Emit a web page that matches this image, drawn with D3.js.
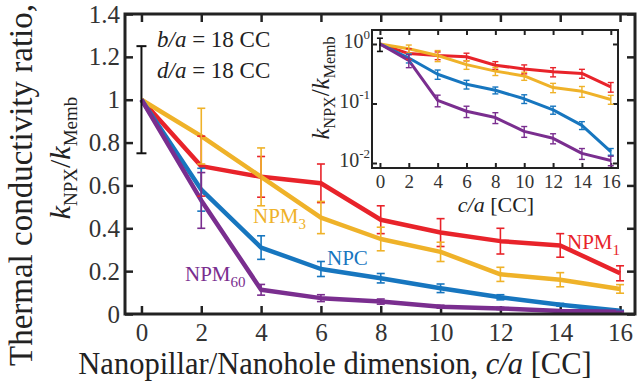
<!DOCTYPE html>
<html>
<head>
<meta charset="utf-8">
<script src="https://cdn.jsdelivr.net/npm/d3@7"></script>
<style>
    body { margin: 0; background: #fff; }
    svg, svg text { font-family: "Liberation Serif", "Times New Roman", Times, serif; }
    .axis path, .axis line { stroke: #222; }
    .axis text { fill: #333; }
</style>
</head>
<body>
<svg id="chart"></svg>
<script>
// data
const cSizes = [0, 2, 4, 6, 8, 10, 12, 14, 16];
const npm1 = [1, 0.69, 0.64, 0.61, 0.44, 0.38, 0.34, 0.32, 0.19];
const npm1Err = [0.25, 0.14, 0.095, 0.09, 0.065, 0.065, 0.06, 0.055, 0.035];
const npm3 = [1, 0.83, 0.64, 0.45, 0.35, 0.29, 0.185, 0.16, 0.117];
const npm3Err = [0.25, 0.13, 0.135, 0.075, 0.055, 0.045, 0.033, 0.033, 0.02];
const npc = [1, 0.58, 0.31, 0.21, 0.167, 0.12, 0.078, 0.043, 0.0155];
const npcErr = [0.25, 0.1, 0.055, 0.035, 0.022, 0.02, 0.012, 0.0065, 0.002];
const npm60 = [1, 0.53, 0.113, 0.074, 0.058, 0.034, 0.026, 0.0145, 0.011];
const npm60Err = [0.25, 0.13, 0.025, 0.016, 0.012, 0.007, 0.005, 0.003, 0.002];
const yTicks = [0, 0.2, 0.4, 0.6, 0.8, 1, 1.2, 1.4];
const logTicks = [1, 0.1, 0.01];

const seriesList = [
    { name: "NPM", sub: "1", vals: npm1, err: npm1Err, color: "#e8232a" },
    { name: "NPM", sub: "3", vals: npm3, err: npm3Err, color: "#efb229" },
    { name: "NPC", sub: "", vals: npc, err: npcErr, color: "#1776bf" },
    { name: "NPM", sub: "60", vals: npm60, err: npm60Err, color: "#7a2e8f" },
];

const width = 640, height = 383;
const svg = d3.select("#chart").attr("width", width).attr("height", height);

// main scales
const x = d3.scaleLinear().domain([-0.55, 16.5]).range([125, 635]);
const y = d3.scaleLinear().domain([0, 1.4]).range([314, 14]);

// inset scales
const xi = d3.scaleLinear().domain([-0.55, 16.5]).range([372, 618]);
const yi = d3.scaleLog().domain([Math.pow(10, -2.084), Math.pow(10, 0.235)]).range([168, 30]);

const fmt = d => String(+d.toFixed(1));

// main axes (ticks inward on all four sides)
svg.append("g").attr("class", "axis")
    .attr("transform", `translate(0,${y(0)})`)
    .call(d3.axisBottom(x).tickValues(cSizes).tickSize(-8).tickSizeOuter(0).tickPadding(9))
    .call(g => g.selectAll("text").attr("font-size", 25));
svg.append("g").attr("class", "axis")
    .attr("transform", `translate(0,${y(1.4)})`)
    .call(d3.axisTop(x).tickValues(cSizes).tickSize(-8).tickSizeOuter(0).tickFormat(""));
svg.append("g").attr("class", "axis")
    .attr("transform", `translate(${x.range()[0]},0)`)
    .call(d3.axisLeft(y).tickValues(yTicks).tickFormat(fmt).tickSize(-8).tickSizeOuter(0).tickPadding(5))
    .call(g => g.selectAll("text").attr("font-size", 25));
svg.append("g").attr("class", "axis")
    .attr("transform", `translate(${x.range()[1]},0)`)
    .call(d3.axisRight(y).tickValues(yTicks).tickSize(-8).tickSizeOuter(0).tickFormat(""));

svg.selectAll(".axis line").attr("stroke-width", 2.5);
svg.selectAll(".axis text").attr("font-family", null);

// series lines + error bars
const mainLine = (vals) => d3.line().x((d, i) => x(cSizes[i])).y(d => y(d))(vals);

function errBars(g, xs, ys, s, cap, sw, idx) {
    const eb = g.append("g").attr("stroke", s.color).attr("stroke-width", sw).attr("fill", "none");
    idx.forEach(i => {
        const lo = ys(Math.max(s.vals[i] - s.err[i], ys.domain()[0]));
        const hi = ys(s.vals[i] + s.err[i]);
        const cx = xs(cSizes[i]);
        eb.append("line").attr("x1", cx).attr("x2", cx).attr("y1", lo).attr("y2", hi);
        eb.append("line").attr("x1", cx - cap).attr("x2", cx + cap).attr("y1", lo).attr("y2", lo);
        eb.append("line").attr("x1", cx - cap).attr("x2", cx + cap).attr("y1", hi).attr("y2", hi);
    });
}
const restIdx = d3.range(1, cSizes.length);

const mainG = svg.append("g");
seriesList.forEach(s => {
    mainG.append("path").attr("d", mainLine(s.vals))
        .attr("fill", "none").attr("stroke", s.color).attr("stroke-width", 4.5)
        .attr("stroke-linejoin", "round");
});
seriesList.forEach(s => errBars(mainG, x, y, s, 4, 1.6, restIdx));
// shared reference point at c/a = 0
errBars(mainG, x, y, { vals: npm1, err: npm1Err, color: "#111" }, 5, 2, [0]);

// frame
svg.append("rect")
    .attr("x", x.range()[0]).attr("y", y(1.4))
    .attr("width", x.range()[1] - x.range()[0]).attr("height", y(0) - y(1.4))
    .attr("fill", "none").attr("stroke", "#222").attr("stroke-width", 3);

// series labels
const labels = [
    { s: 0, x: 567, y: 249 },
    { s: 1, x: 253, y: 223 },
    { s: 2, x: 327, y: 265 },
    { s: 3, x: 185, y: 281 },
];
labels.forEach(l => {
    const s = seriesList[l.s];
    const t = svg.append("text").attr("x", l.x).attr("y", l.y)
        .attr("fill", s.color).attr("font-size", 21).text(s.name);
    if (s.sub) t.append("tspan").attr("dy", 6).attr("font-size", 15).text(s.sub);
});

// parameter annotations
[["b", 47], ["d", 78]].forEach(([v, yy]) => {
    const t = svg.append("text").attr("x", 157).attr("y", yy).attr("font-size", 23).attr("fill", "#222");
    t.append("tspan").attr("font-style", "italic").text(v + "/a");
    t.append("tspan").text(" = 18 CC");
});

// inset
const inset = svg.append("g");
inset.append("rect")
    .attr("x", xi.range()[0]).attr("y", yi.range()[1])
    .attr("width", xi.range()[1] - xi.range()[0]).attr("height", yi.range()[0] - yi.range()[1])
    .attr("fill", "#fff");

inset.append("g").attr("class", "axis")
    .attr("transform", `translate(0,${yi.range()[0]})`)
    .call(d3.axisBottom(xi).tickValues(cSizes).tickSize(-5).tickSizeOuter(0).tickPadding(7))
    .call(g => g.selectAll("text").attr("font-size", 19).attr("font-family", null));
inset.append("g").attr("class", "axis")
    .attr("transform", `translate(0,${yi.range()[1]})`)
    .call(d3.axisTop(xi).tickValues(cSizes).tickSize(-5).tickSizeOuter(0).tickFormat(""));
const yiAxis = inset.append("g").attr("class", "axis")
    .attr("transform", `translate(${xi.range()[0]},0)`)
    .call(d3.axisLeft(yi).tickValues(logTicks).tickSize(-5).tickSizeOuter(0).tickFormat(""));
yiAxis.selectAll(".tick").append("text")
    .attr("x", -2).attr("dy", "0.36em").attr("text-anchor", "end")
    .attr("fill", "#333")
    .each(function (d) {
        const t = d3.select(this);
        t.append("tspan").attr("font-size", 20).text("10");
        t.append("tspan").attr("font-size", 13).attr("dy", -9).text(String(Math.round(Math.log10(d))));
    });
inset.append("g").attr("class", "axis")
    .attr("transform", `translate(${xi.range()[1]},0)`)
    .call(d3.axisRight(yi).tickValues(logTicks).tickSize(-5).tickSizeOuter(0).tickFormat(""));
inset.selectAll(".axis line").attr("stroke-width", 2);

const insetLine = (vals) => d3.line().x((d, i) => xi(cSizes[i])).y(d => yi(d))(vals);
seriesList.forEach(s => {
    inset.append("path").attr("d", insetLine(s.vals))
        .attr("fill", "none").attr("stroke", s.color).attr("stroke-width", 3)
        .attr("stroke-linejoin", "round");
});
seriesList.forEach(s => errBars(inset, xi, yi, s, 3, 1.4, restIdx));
errBars(inset, xi, yi, { vals: npm1, err: npm1Err, color: "#111" }, 3, 1.6, [0]);

inset.append("rect")
    .attr("x", xi.range()[0]).attr("y", yi.range()[1])
    .attr("width", xi.range()[1] - xi.range()[0]).attr("height", yi.range()[0] - yi.range()[1])
    .attr("fill", "none").attr("stroke", "#222").attr("stroke-width", 2);

// inset titles
const ixt = svg.append("text").attr("x", 496).attr("y", 212).attr("text-anchor", "middle")
    .attr("font-size", 22).attr("fill", "#222");
ixt.append("tspan").attr("font-style", "italic").text("c/a");
ixt.append("tspan").text(" [CC]");

function kRatio(sel, big, small) {
    sel.append("tspan").attr("font-style", "italic").attr("font-size", big).text("k");
    sel.append("tspan").attr("font-size", small).attr("dy", small * 0.35).text("NPX");
    sel.append("tspan").attr("font-size", big).attr("dy", -small * 0.35).text("/");
    sel.append("tspan").attr("font-style", "italic").attr("font-size", big).text("k");
    sel.append("tspan").attr("font-size", small).attr("dy", small * 0.35).text("Memb");
}
const iyt = svg.append("text").attr("transform", "translate(329,88) rotate(-90)")
    .attr("text-anchor", "middle").attr("fill", "#222");
kRatio(iyt, 25, 16);

// main titles
const xt = svg.append("text").attr("x", 335).attr("y", 374).attr("text-anchor", "middle")
    .attr("font-size", 30.5).attr("fill", "#222");
xt.append("tspan").text("Nanopillar/Nanohole dimension, ");
xt.append("tspan").attr("font-style", "italic").text("c/a");
xt.append("tspan").text(" [CC]");

svg.append("text").attr("transform", "translate(32,185) rotate(-90)")
    .attr("text-anchor", "middle").attr("font-size", 33).attr("fill", "#222")
    .text("Thermal conductivity ratio,");
const yt2 = svg.append("text").attr("transform", "translate(70,158) rotate(-90)")
    .attr("text-anchor", "middle").attr("fill", "#222");
kRatio(yt2, 30, 19);
</script>
</body>
</html>
